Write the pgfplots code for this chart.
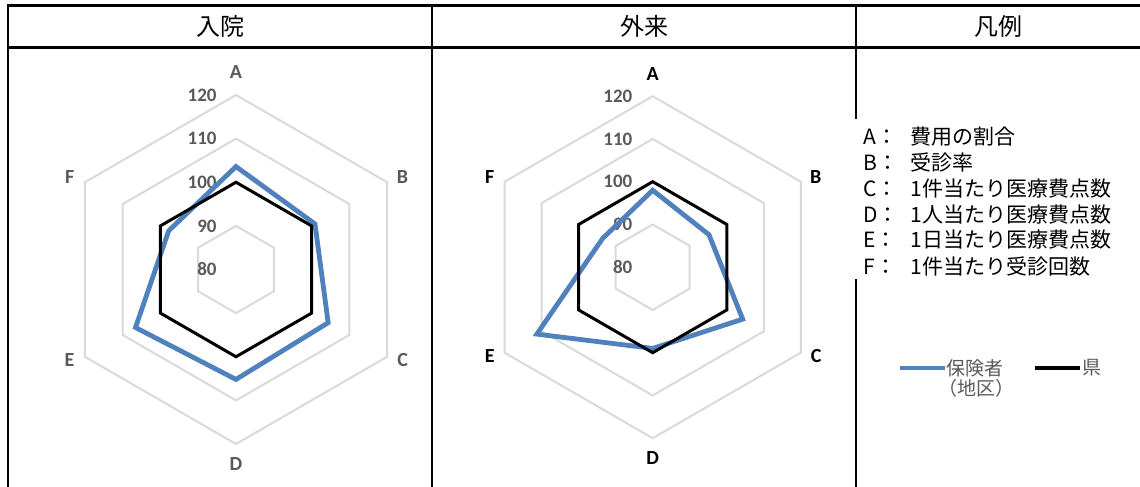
\documentclass[border=0pt]{standalone}
\usepackage{fontspec}
\usepackage{pgfplots}
\usepackage{pgfplotstable}
\pgfplotsset{compat=1.18}
\usepgfplotslibrary{polar}

\newfontfamily\jpfont{Noto Sans CJK JP}
\newfontfamily\numfont{Carlito}

\definecolor{hoken}{RGB}{79,129,189}
\definecolor{gridgray}{RGB}{217,217,217}
\definecolor{labgray}{RGB}{89,89,89}

% angle (deg), insurer (district), prefecture
\pgfplotstableread{
ang hoken ken
90  103.6 100
30  100.9 100
330 104.4 100
270 105.2 100
210 106.6 100
150 97.8  100
}\nyuin

\pgfplotstableread{
ang hoken ken
90  98.0  100
30  95.2  100
330 104.3 100
270 99.0  100
210 111.3 100
150 93.5  100
}\gairai

% hexagonal grid rings
\pgfplotstableread{
ang r90 r100 r110 r120
90  90 100 110 120
30  90 100 110 120
330 90 100 110 120
270 90 100 110 120
210 90 100 110 120
150 90 100 110 120
}\rings

\pgfplotsset{
  radar/.style={scale only axis, hide axis, clip=false,
    xmin=0, xmax=360, ymin=0, ymax=40, anchor=center},
  ring/.style={draw=gridgray, line width=1pt, mark=none},
}
\tikzset{
  ticklab/.style={anchor=east, inner sep=0pt, text=labgray,
    font=\numfont\bfseries\fontsize{9.5}{10}\selectfont},
}

\newcommand{\radarbody}[3]{%
  % #1 table, #2 category label colour, #3 tick label shift
  \addplot[ring] table[x=ang, y expr=\thisrow{r90}-80] {\rings} -- cycle;
  \addplot[ring] table[x=ang, y expr=\thisrow{r100}-80] {\rings} -- cycle;
  \addplot[ring] table[x=ang, y expr=\thisrow{r110}-80] {\rings} -- cycle;
  \addplot[ring] table[x=ang, y expr=\thisrow{r120}-80] {\rings} -- cycle;
  \node[ticklab, xshift=#3] at (axis cs:90,40) {120};
  \node[ticklab, xshift=#3] at (axis cs:90,30) {110};
  \node[ticklab, xshift=#3] at (axis cs:90,20) {100};
  \node[ticklab, xshift=#3] at (axis cs:90,10) {90};
  \node[ticklab, xshift=#3] at (axis cs:90,0) {80};
  \begin{scope}[every node/.style={inner sep=0pt, text=#2,
      font=\numfont\bfseries\fontsize{10}{11}\selectfont}]
    \node at (axis cs:90,45.2)    {A};
    \node at (axis cs:29,43.6)    {B};
    \node at (axis cs:331.5,43.5) {C};
    \node at (axis cs:270,44.6)   {D};
    \node at (axis cs:208.5,43.4) {E};
    \node at (axis cs:151,43.6)   {F};
  \end{scope}
  \addplot[draw=hoken, line width=2.4pt, mark=none]
    table[x=ang, y expr=\thisrow{hoken}-80] {#1} -- cycle;
  \addplot[draw=black, line width=1.5pt, mark=none]
    table[x=ang, y expr=\thisrow{ken}-80] {#1} -- cycle;
}

\begin{document}
\begin{tikzpicture}
  % table frame
  \draw[line width=1.25pt] (4pt,240.85pt) -- (570pt,240.85pt);
  \draw[line width=1.5pt]  (4pt,219.5pt) -- (570pt,219.5pt);
  \draw[line width=1.25pt] (4pt,241.5pt) -- (4pt,0pt);
  \draw[line width=0.85pt] (216pt,240.85pt) -- (216pt,0pt);
  \draw[line width=1pt]    (428pt,240.85pt) -- (428pt,0pt);

  % column headings
  \begin{scope}[every node/.style={inner sep=0pt, font=\jpfont\fontsize{12}{14}\selectfont}]
    \node at (110pt,230.5pt) {入院};
    \node at (322pt,230.5pt) {外来};
    \node at (499pt,230.5pt) {凡例};
  \end{scope}

  % inpatient
  \begin{polaraxis}[radar, at={(118pt,108.75pt)}, width=174.5pt, height=174.5pt]
    \radarbody{\nyuin}{labgray}{-9.5pt}
  \end{polaraxis}

  % outpatient
  \begin{polaraxis}[radar, at={(326.35pt,109.9pt)}, width=171pt, height=171pt]
    \radarbody{\gairai}{black}{-10pt}
  \end{polaraxis}

  % key to the categories
  \fill[white] (426pt,184pt) rectangle (570pt,104pt);
  \begin{scope}[every node/.style={inner sep=0pt, anchor=west,
      font=\jpfont\fontsize{10.5}{12}\selectfont}]
    \node at (431.5pt,175pt)   {A：};
    \node at (455pt,175pt)     {費用の割合};
    \node at (431.5pt,162pt)   {B：};
    \node at (455pt,162pt)     {受診率};
    \node at (431.5pt,149pt)   {C：};
    \node at (455pt,149pt)     {1件当たり医療費点数};
    \node at (431.5pt,136pt)   {D：};
    \node at (455pt,136pt)     {1人当たり医療費点数};
    \node at (431.5pt,123.5pt) {E：};
    \node at (455pt,123.5pt)   {1日当たり医療費点数};
    \node at (431.5pt,110pt)   {F：};
    \node at (455pt,110pt)     {1件当たり受診回数};
  \end{scope}

  % series legend
  \draw[hoken, line width=1.7pt] (450pt,59.5pt) -- (472.5pt,59.5pt);
  \draw[black, line width=1.7pt] (517.5pt,59.5pt) -- (540pt,59.5pt);
  \begin{scope}[every node/.style={inner sep=0pt, anchor=west, text=labgray,
      font=\jpfont\fontsize{9.5}{11}\selectfont}]
    \node at (473pt,59.5pt) {保険者};
    \node at (469pt,49.5pt) {（地区）};
    \node at (541pt,59.5pt) {県};
  \end{scope}

  \pgfresetboundingbox
  \useasboundingbox (0pt,0pt) rectangle (570pt,243.5pt);
\end{tikzpicture}
\end{document}
